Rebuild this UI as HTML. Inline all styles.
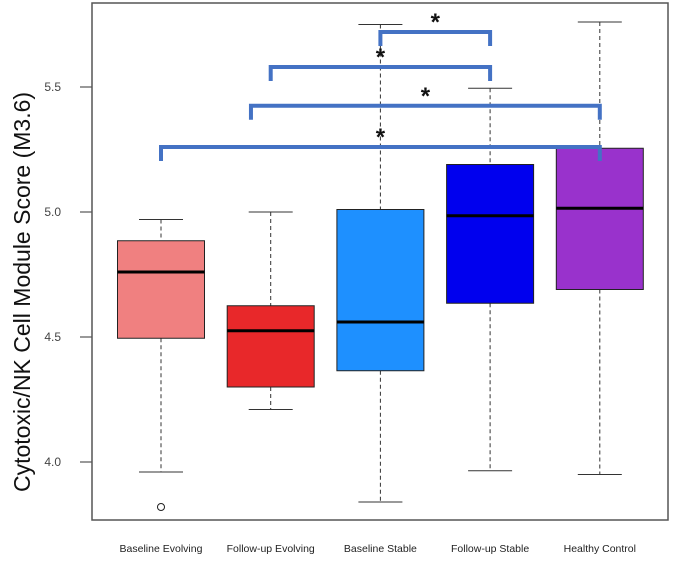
<!DOCTYPE html>
<html><head><meta charset="utf-8"><style>
body{margin:0;background:#fff;}
svg text{font-family:"Liberation Sans",sans-serif;}
</style></head><body>
<svg id="chart" width="677" height="576"></svg>
<script>
const categories=["Baseline Evolving","Follow-up Evolving","Baseline Stable","Follow-up Stable","Healthy Control"];
const lowWhisker=[3.96,4.21,3.84,3.965,3.95];
const q1=[4.495,4.30,4.365,4.635,4.69];
const medians=[4.76,4.525,4.56,4.985,5.015];
const q3=[4.885,4.625,5.01,5.19,5.255];
const highWhisker=[4.97,5.0,5.75,5.495,5.76];
const outliers=[[0,3.82]];
const colors=["#f08080","#e8282a","#1e90ff","#0000ee","#9932cc"];
const yTicks=[4.0,4.5,5.0,5.5];
const yTickLabels=["4.0","4.5","5.0","5.5"];
const brackets=[[2,3,5.72],[1,3,5.58],[0.82,4,5.425],[0,4,5.26]];

const svg=document.getElementById('chart');
const NS="http://www.w3.org/2000/svg";
const L=92,R=668,T=3,B=520;
const y=v=>462-(v-4)*250;
const xc=i=>161+i*109.7;
const bw=87;
function mk(tag,attrs,name){const e=document.createElementNS(NS,tag);for(const k in attrs)e.setAttribute(k,attrs[k]);


svg.appendChild(e);return e;}
mk('rect',{x:L,y:T,width:R-L,height:B-T,fill:'none',stroke:'#555','stroke-width':1.5},'plot-frame');
yTicks.forEach((t,i)=>{
 mk('line',{x1:L-12,x2:L,y1:y(t),y2:y(t),stroke:'#555','stroke-width':1.2},'y-tick');
 const tx=mk('text',{x:L-31,y:y(t)+4,'font-size':12,fill:'#444','text-anchor':'end'},'y-tick-label');tx.textContent=yTickLabels[i];
});
const yt=mk('text',{x:0,y:0,'font-size':23,fill:'#111','text-anchor':'middle',transform:'translate(30,292) rotate(-90)'},'y-axis-title');
yt.textContent="Cytotoxic/NK Cell Module Score (M3.6)";
categories.forEach((c,i)=>{
 const x=xc(i);
 mk('line',{x1:x,x2:x,y1:y(highWhisker[i]),y2:y(q3[i]),stroke:'#333','stroke-dasharray':'4,3'},'upper-whisker');
 mk('line',{x1:x,x2:x,y1:y(q1[i]),y2:y(lowWhisker[i]),stroke:'#333','stroke-dasharray':'4,3'},'lower-whisker');
 mk('line',{x1:x-22,x2:x+22,y1:y(highWhisker[i]),y2:y(highWhisker[i]),stroke:'#333'},'upper-cap');
 mk('line',{x1:x-22,x2:x+22,y1:y(lowWhisker[i]),y2:y(lowWhisker[i]),stroke:'#333'},'lower-cap');
 mk('rect',{x:x-bw/2,y:y(q3[i]),width:bw,height:y(q1[i])-y(q3[i]),fill:colors[i],stroke:'#222','stroke-width':1},'box-'+i);
 mk('line',{x1:x-bw/2,x2:x+bw/2,y1:y(medians[i]),y2:y(medians[i]),stroke:'#000','stroke-width':3},'median-'+i);
 const lb=mk('text',{x:x,y:552,'font-size':10.5,fill:'#222','text-anchor':'middle'},'x-label');lb.textContent=c;
});
outliers.forEach(o=>mk('circle',{cx:xc(o[0]),cy:y(o[1]),r:3.5,fill:'#fff',stroke:'#222'},'outlier'));
brackets.forEach(b=>{
 const x1=xc(b[0]),x2=xc(b[1]),yy=y(b[2]);
 mk('path',{d:`M${x1},${yy+14}V${yy}H${x2}V${yy+14}`,fill:'none',stroke:'#4472c4','stroke-width':4},'significance-bracket');
 const s=mk('text',{x:(x1+x2)/2,y:yy-2,'font-size':24,'font-weight':'bold',fill:'#111','text-anchor':'middle'},'significance-star');s.textContent="*";
});
</script>
</body></html>
